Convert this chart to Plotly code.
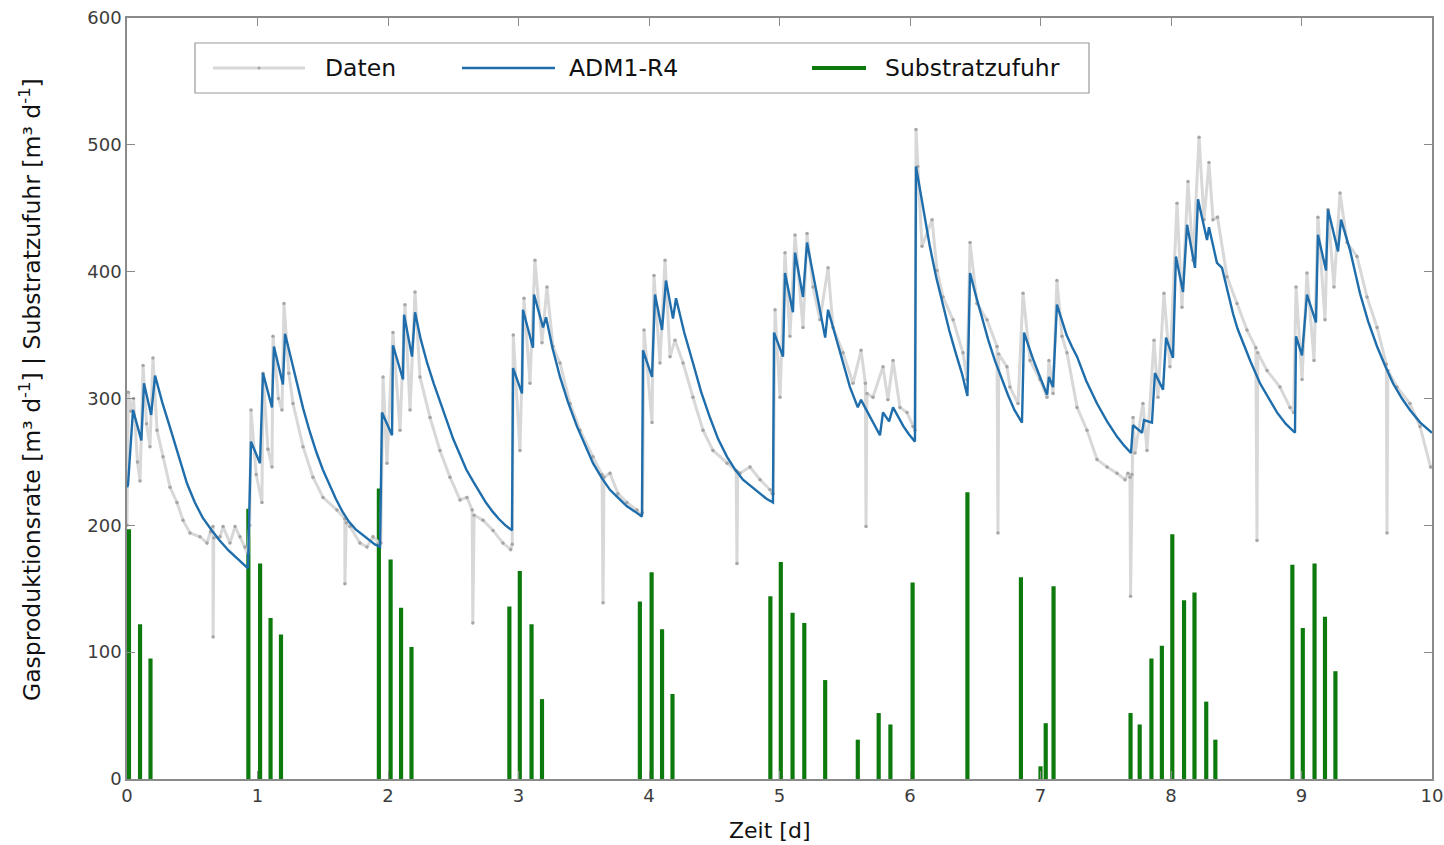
import plotly.graph_objects as go

# --- Substrate feed pulses (time [d], feed rate [m3/d]) ---
feed_t = [0.015, 0.10, 0.18,
          0.93, 1.02, 1.10, 1.18,
          1.93, 2.02, 2.10, 2.18,
          2.93, 3.01, 3.10, 3.18,
          3.93, 4.02, 4.10, 4.18,
          4.93, 5.01, 5.10, 5.19, 5.35, 5.60, 5.76, 5.85, 6.02, 6.44,
          6.85, 7.00, 7.04, 7.10,
          7.69, 7.76, 7.85, 7.93, 8.01, 8.10, 8.18, 8.27, 8.34,
          8.93, 9.01, 9.10, 9.18, 9.26]
feed_q = [197, 122, 95,
          213, 170, 127, 114,
          229, 173, 135, 104,
          136, 164, 122, 63,
          140, 163, 118, 67,
          144, 171, 131, 123, 78, 31, 52, 43, 155, 226,
          159, 10, 44, 152,
          52, 43, 95, 105, 193, 141, 147, 61, 31,
          169, 119, 170, 128, 85]

# --- Simulated gas production, ADM1-R4 (one row per feeding day) ---
model_t = [0.000, 0.008, 0.046, 0.110, 0.130, 0.185, 0.215, 0.270, 0.330, 0.400, 0.460, 0.520, 0.580, 0.650,
           0.710, 0.780, 0.840, 0.927,
           0.950, 1.019, 1.042, 1.111, 1.126, 1.195, 1.211, 1.270, 1.310, 1.350, 1.400, 1.450, 1.500, 1.550,
           1.600, 1.650, 1.700, 1.750, 1.800, 1.850, 1.900, 1.939,
           1.954, 2.031, 2.038, 2.115, 2.123, 2.184, 2.207, 2.250, 2.300, 2.350, 2.400, 2.450, 2.500, 2.550,
           2.600, 2.650, 2.700, 2.750, 2.800, 2.850, 2.900, 2.950,
           2.958, 3.027, 3.034, 3.111, 3.119, 3.188, 3.211, 3.260, 3.318, 3.380, 3.448, 3.510, 3.571, 3.640,
           3.701, 3.770, 3.831, 3.890, 3.946,
           3.954, 4.023, 4.046, 4.100, 4.130, 4.184, 4.207, 4.270, 4.337, 4.400, 4.467, 4.530, 4.598, 4.660,
           4.720, 4.790, 4.851, 4.900, 4.950,
           4.958, 5.027, 5.042, 5.103, 5.119, 5.180, 5.211, 5.250, 5.287, 5.320, 5.350, 5.372, 5.420, 5.464,
           5.500, 5.540, 5.600, 5.625, 5.660, 5.700, 5.740, 5.770, 5.793, 5.840, 5.870, 5.910, 5.950, 5.990,
           6.038,
           6.046, 6.070, 6.100, 6.150, 6.200, 6.250, 6.300, 6.350, 6.400, 6.440,
           6.460, 6.500, 6.550, 6.600, 6.650, 6.700, 6.750, 6.800, 6.858,
           6.874, 6.910, 6.943, 7.000, 7.050, 7.065, 7.096, 7.126, 7.160, 7.200, 7.240, 7.280, 7.350, 7.433,
           7.510, 7.586, 7.640, 7.693,
           7.709, 7.778, 7.793, 7.854, 7.877, 7.939, 7.962, 8.015, 8.038, 8.092, 8.123, 8.184, 8.207, 8.276,
           8.291, 8.352, 8.391, 8.430, 8.475, 8.510, 8.552, 8.610, 8.682, 8.750, 8.812, 8.880, 8.950,
           8.958, 9.004, 9.042, 9.111, 9.126, 9.188, 9.203, 9.280, 9.303, 9.340, 9.372, 9.410, 9.448, 9.510,
           9.579, 9.640, 9.701, 9.770, 9.831, 9.910, 10.000]
model_q = [230, 232, 291, 267, 312, 287, 318, 297, 277, 253, 233, 218, 206, 196,
           188, 180, 174, 166,
           266, 249, 320, 293, 341, 311, 351, 325, 308, 292, 274, 258, 244, 232,
           221, 211, 203, 197, 193, 189, 185, 183,
           289, 271, 342, 315, 366, 333, 368, 347, 328, 312, 297, 282, 268, 256,
           244, 235, 226, 218, 211, 205, 200, 196,
           324, 304, 370, 340, 382, 356, 364, 340, 317, 297, 278, 263, 249, 237,
           228, 221, 215, 211, 207,
           338, 317, 382, 354, 393, 363, 379, 352, 328, 305, 285, 268, 254, 244,
           236, 230, 225, 221, 218,
           352, 333, 399, 368, 415, 380, 423, 402, 383, 365, 348, 370, 352, 336,
           322, 309, 293, 299, 292, 284, 277, 271, 289, 282, 293, 285, 278, 272,
           266,
           483, 468, 449, 421, 396, 374, 354, 336, 319, 302,
           399, 383, 364, 346, 330, 316, 303, 291, 281,
           352, 341, 331, 316, 303, 317, 309, 374, 362, 350, 341, 333, 314, 296,
           282, 270, 263, 257,
           279, 273, 283, 281, 320, 307, 348, 332, 412, 384, 437, 403, 457, 425,
           435, 407, 403, 386, 367, 355, 344, 329, 312, 300, 289, 280, 273,
           349, 334, 382, 360, 429, 401, 449, 416, 441, 429, 417, 400, 383, 361,
           341, 326, 312, 300, 291, 281, 273]

# --- Measured gas production rate (one row per feeding day) ---
data_t = [0.000, 0.010, 0.030, 0.050, 0.080, 0.100, 0.123, 0.150, 0.176, 0.199, 0.230, 0.276, 0.330, 0.383,
          0.429, 0.483, 0.559, 0.613, 0.640, 0.659, 0.660, 0.665, 0.713, 0.736, 0.789, 0.828, 0.866, 0.904, 0.925,
          0.940, 0.950, 0.990, 1.034, 1.042, 1.080, 1.111, 1.119, 1.160, 1.188, 1.203, 1.240, 1.272, 1.349,
          1.425, 1.502, 1.609, 1.669, 1.670, 1.680, 1.709, 1.785, 1.839, 1.885, 1.930,
          1.945, 1.962, 1.992, 2.038, 2.092, 2.130, 2.169, 2.207, 2.245, 2.322, 2.398, 2.475, 2.552, 2.605,
          2.645, 2.650, 2.660, 2.728, 2.805, 2.881, 2.940,
          2.952, 2.960, 3.011, 3.042, 3.088, 3.126, 3.180, 3.218, 3.264, 3.318, 3.395, 3.471, 3.571, 3.640,
          3.648, 3.655, 3.701, 3.762, 3.831, 3.908, 3.940,
          3.950, 3.962, 4.023, 4.038, 4.084, 4.123, 4.161, 4.199, 4.261, 4.337, 4.414, 4.490, 4.598, 4.668,
          4.674, 4.680, 4.697, 4.774, 4.851, 4.927, 4.945,
          4.952, 4.966, 5.004, 5.042, 5.080, 5.119, 5.180, 5.211, 5.257, 5.310, 5.372, 5.410, 5.487, 5.563,
          5.625, 5.658, 5.663, 5.670, 5.716, 5.793, 5.831, 5.870, 5.923, 5.977, 6.023, 6.038,
          6.046, 6.060, 6.092, 6.169, 6.207, 6.253, 6.330, 6.406, 6.437, 6.460, 6.513, 6.590, 6.667, 6.674,
          6.680, 6.743, 6.766, 6.828, 6.866, 6.920, 6.996, 7.050, 7.065, 7.096, 7.126, 7.165, 7.203, 7.280,
          7.356, 7.433, 7.510, 7.586, 7.648, 7.670, 7.686, 7.690, 7.700,
          7.709, 7.724, 7.785, 7.816, 7.870, 7.900, 7.946, 7.992, 8.046, 8.084, 8.130, 8.169, 8.215, 8.253,
          8.291, 8.322, 8.356, 8.429, 8.506, 8.582, 8.650, 8.659, 8.665, 8.736, 8.835, 8.912, 8.940,
          8.958, 9.004, 9.042, 9.096, 9.126, 9.180, 9.203, 9.249, 9.295, 9.349, 9.425, 9.502, 9.579, 9.650,
          9.655, 9.662, 9.732, 9.831, 9.908, 9.989]
data_q = [200, 305, 290, 300, 250, 235, 326, 280, 262, 332, 275, 254, 230, 218,
          204, 194, 191, 186, 195, 199, 112, 190, 191, 199, 186, 199, 191, 183, 178,
          200, 291, 240, 218, 320, 260, 246, 349, 300, 291, 375, 320, 296, 262,
          238, 222, 212, 205, 154, 202, 199, 186, 183, 191, 186,
          186, 317, 249, 352, 275, 374, 291, 384, 317, 285, 259, 238, 220, 222,
          212, 123, 208, 204, 196, 186, 181,
          185, 350, 259, 379, 312, 409, 344, 388, 341, 328, 296, 275, 254, 240,
          139, 238, 241, 225, 218, 212, 208,
          210, 354, 281, 397, 328, 409, 333, 346, 328, 301, 275, 259, 249, 243,
          170, 242, 241, 246, 236, 228, 225,
          225, 370, 301, 415, 349, 429, 356, 430, 388, 362, 403, 356, 336, 312,
          338, 312, 199, 304, 301, 325, 299, 330, 293, 289, 278, 275,
          512, 483, 420, 441, 401, 380, 362, 336, 315, 423, 375, 362, 341, 194,
          335, 325, 309, 296, 383, 330, 315, 301, 330, 304, 393, 349, 336, 293,
          275, 252, 246, 241, 236, 241, 238, 144, 240,
          285, 257, 296, 259, 346, 301, 383, 325, 454, 372, 471, 409, 506, 441,
          486, 441, 443, 396, 375, 354, 340, 188, 336, 322, 309, 293, 289,
          388, 315, 399, 330, 443, 362, 449, 388, 462, 423, 412, 380, 356, 327,
          194, 322, 309, 296, 278, 246]

x_ticks = list(range(0, 11))
y_ticks = [0, 100, 200, 300, 400, 500, 600]

DATA_LINE = "#d8d8d8"
DATA_DOT = "#a6a6a6"
MODEL_BLUE = "#1f6eab"
FEED_GREEN = "#0c7a0c"
FONT = "DejaVu Sans"

fig = go.Figure()

fig.add_trace(go.Scatter(
    x=data_t, y=data_q, name="Daten", mode="lines+markers",
    line=dict(color=DATA_LINE, width=3),
    marker=dict(color=DATA_DOT, size=3.5),
))
fig.add_trace(go.Scatter(
    x=model_t, y=model_q, name="ADM1-R4", mode="lines",
    line=dict(color=MODEL_BLUE, width=2.4),
))
fig.add_trace(go.Bar(
    x=feed_t, y=feed_q, name="Substratzufuhr", width=0.032,
    marker=dict(color=FEED_GREEN, line=dict(width=0)),
))

axis_common = dict(
    showline=True, linecolor="#8a8a8a", linewidth=1.5, mirror="ticks",
    ticks="inside", ticklen=8, tickwidth=1, tickcolor="#8a8a8a",
    showgrid=False, zeroline=False, automargin=False,
    tickfont=dict(family=FONT, size=18, color="#3c3c3c"),
)
fig.update_xaxes(range=[0, 10], tickvals=x_ticks, **axis_common)
fig.update_yaxes(range=[0, 600], tickvals=y_ticks, **axis_common)

# plot frame spans x 127..1432 px and y 18..779 px of the page
L, R, T, B = 127, 1432, 18, 779

def px_x(p):
    return (p - L) / float(R - L)

def px_y(p):
    return (B - p) / float(B - T)

# Legend drawn as a framed row above the curves
shapes = [
    dict(type="rect", xref="paper", yref="paper",
         x0=px_x(195), x1=px_x(1089), y0=px_y(93), y1=px_y(43),
         line=dict(color="#9a9a9a", width=1.2), fillcolor="white", layer="above"),
    dict(type="line", xref="paper", yref="paper",
         x0=px_x(213), x1=px_x(305), y0=px_y(68), y1=px_y(68),
         line=dict(color=DATA_LINE, width=3), layer="above"),
    dict(type="circle", xref="paper", yref="paper",
         x0=px_x(257.5), x1=px_x(260.5), y0=px_y(69.5), y1=px_y(66.5),
         line=dict(color=DATA_DOT, width=0), fillcolor=DATA_DOT, layer="above"),
    dict(type="line", xref="paper", yref="paper",
         x0=px_x(462), x1=px_x(555), y0=px_y(68), y1=px_y(68),
         line=dict(color=MODEL_BLUE, width=2.4), layer="above"),
    dict(type="line", xref="paper", yref="paper",
         x0=px_x(812), x1=px_x(866), y0=px_y(68), y1=px_y(68),
         line=dict(color=FEED_GREEN, width=4), layer="above"),
]

legend_font = dict(family=FONT, size=23.5, color="#111111")
annotations = [
    dict(text="Daten", x=px_x(323), y=px_y(68), xref="paper", yref="paper",
         xanchor="left", yanchor="middle", showarrow=False, font=legend_font),
    dict(text="ADM1-R4", x=px_x(567), y=px_y(68), xref="paper", yref="paper",
         xanchor="left", yanchor="middle", showarrow=False, font=legend_font),
    dict(text="Substratzufuhr", x=px_x(883), y=px_y(68), xref="paper", yref="paper",
         xanchor="left", yanchor="middle", showarrow=False, font=legend_font),
    dict(text="Zeit [d]", x=px_x(769), y=px_y(830), xref="paper", yref="paper",
         xanchor="center", yanchor="middle", showarrow=False,
         font=dict(family=FONT, size=22, color="#111111")),
    dict(text="Gasproduktionsrate [m³ d<sup>-1</sup>] | Substratzufuhr [m³ d<sup>-1</sup>]",
         x=px_x(30), y=px_y(390), xref="paper", yref="paper",
         xanchor="center", yanchor="middle", textangle=-90, showarrow=False,
         font=dict(family=FONT, size=23.5, color="#111111")),
]

fig.update_layout(
    width=1444, height=845,
    margin=dict(l=L, r=1444 - R, t=T, b=845 - B),
    paper_bgcolor="white", plot_bgcolor="white",
    showlegend=False, barmode="overlay",
    shapes=shapes, annotations=annotations,
)

fig.write_html("out.html")
